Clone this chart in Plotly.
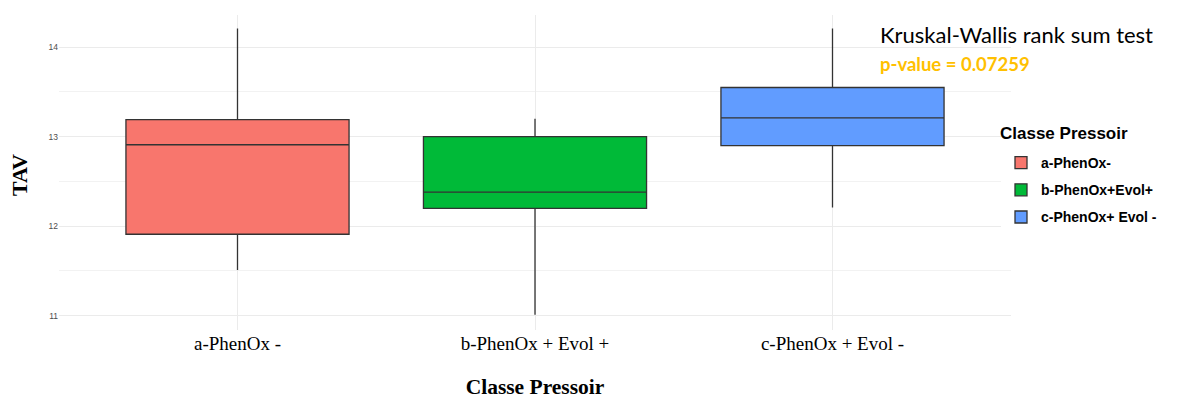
import plotly.graph_objects as go

categories = ["a-PhenOx -", "b-PhenOx + Evol +", "c-PhenOx + Evol -"]
legend_names = ["a-PhenOx-", "b-PhenOx+Evol+", "c-PhenOx+ Evol -"]
colors = ["#F8766D", "#00BA38", "#619CFF"]
q1 = [11.91, 12.20, 12.90]
median = [12.91, 12.38, 13.21]
q3 = [13.19, 13.00, 13.55]
lower = [11.51, 11.01, 12.21]
upper = [14.21, 13.20, 14.21]

# page offset of 8px (default body margin) is compensated in margins
L, T, R, B = 51, 7, 187, 76
PW = 1190 - L - R
PH = 398 - T - B


def px_x(page_x):
    return (page_x - 8 - L) / PW


def px_y(page_y):
    return 1 - (page_y - 8 - T) / PH


fig = go.Figure()
for i, cat in enumerate(categories):
    fig.add_trace(go.Box(
        x=[i], q1=[q1[i]], median=[median[i]], q3=[q3[i]],
        lowerfence=[lower[i]], upperfence=[upper[i]],
        name=legend_names[i], fillcolor=colors[i],
        legendgroup=f"g{i}",
        line=dict(color="#333333", width=1.3),
        whiskerwidth=0, width=0.75, boxpoints=False,
        hoverinfo="skip",
    ))

fig.update_layout(
    width=1190, height=398,
    margin=dict(l=L, r=R, t=T, b=B, autoexpand=False),
    paper_bgcolor="white", plot_bgcolor="white",
    boxmode="overlay",
    legend=dict(
        font=dict(family="Liberation Sans, Arial", size=14, color="black", weight="bold"),
        x=px_x(1001), xanchor="left", y=px_y(147), yanchor="top",
        itemwidth=30, traceorder="grouped", tracegroupgap=6,
    ),
    xaxis=dict(
        range=[-0.6, 2.6], automargin=False,
        tickvals=[0, 1, 2], ticktext=categories,
        tickfont=dict(family="Liberation Serif, Times New Roman", size=19, color="black"),
        showgrid=True, gridcolor="#EBEBEB", gridwidth=1,
        zeroline=False, showline=False, ticks="", ticklen=10,
        title=dict(text="<b>Classe Pressoir</b>", font=dict(family="Liberation Serif, Times New Roman", size=21.5, color="black"), standoff=25),
    ),
    yaxis=dict(
        range=[10.84, 14.36], automargin=False,
        tickvals=[11, 12, 13, 14],
        tickfont=dict(family="Liberation Sans, Arial", size=8.5, color="#4D4D4D"),
        showgrid=True, gridcolor="#EBEBEB", gridwidth=1,
        minor=dict(tickvals=[11.5, 12.5, 13.5], showgrid=True, gridcolor="#F2F2F2", gridwidth=0.6),
        zeroline=False, showline=False, ticks="",
    ),
)

fig.add_annotation(
    xref="paper", yref="paper", x=px_x(19), y=px_y(175),
    xanchor="center", yanchor="middle", showarrow=False, textangle=-90,
    text="<b>TAV</b>",
    font=dict(family="Liberation Serif, Times New Roman", size=22, color="black"),
)
fig.add_annotation(
    xref="paper", yref="paper", x=px_x(998), y=px_y(133),
    xanchor="left", yanchor="middle", showarrow=False,
    text="Classe Pressoir",
    font=dict(family="Liberation Sans, Arial", size=17, color="black", weight="bold"),
)
fig.add_annotation(
    xref="paper", yref="paper", x=px_x(878), y=px_y(34),
    xanchor="left", yanchor="middle", showarrow=False,
    text="Kruskal-Wallis rank sum test",
    font=dict(family="Lato, Open Sans", size=22, color="black"),
)
fig.add_annotation(
    xref="paper", yref="paper", x=px_x(878), y=px_y(64),
    xanchor="left", yanchor="middle", showarrow=False,
    text="<b>p-value = 0.07259</b>",
    font=dict(family="Lato, Open Sans", size=18.5, color="#FFC000"),
)

fig.write_html("out.html")
